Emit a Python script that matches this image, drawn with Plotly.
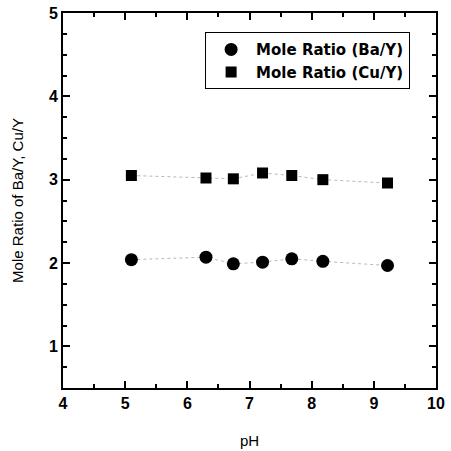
import plotly.graph_objects as go

ph = [5.1, 6.3, 6.74, 7.21, 7.68, 8.18, 9.22]
ba_y = [2.04, 2.07, 1.99, 2.01, 2.05, 2.02, 1.97]
cu_y = [3.05, 3.02, 3.01, 3.08, 3.05, 3.00, 2.96]

fig = go.Figure()
for yy in (ba_y, cu_y):
    fig.add_trace(go.Scatter(x=ph, y=yy, mode="lines", showlegend=False, hoverinfo="skip",
                             line=dict(color="#b8b8b8", width=1, dash="dot")))
fig.add_trace(go.Scatter(x=ph, y=ba_y, mode="markers", name="Mole Ratio (Ba/Y)",
                         marker=dict(symbol="circle", size=13, color="black")))
fig.add_trace(go.Scatter(x=ph, y=cu_y, mode="markers", name="Mole Ratio (Cu/Y)",
                         marker=dict(symbol="square", size=11, color="black")))

axis_common = dict(showline=True, linecolor="black", linewidth=2, mirror="ticks",
                   ticks="inside", ticklen=7, tickwidth=2, tickcolor="black",
                   showgrid=False, zeroline=False, automargin=False,
                   tickfont=dict(family="Liberation Sans", size=16, color="black", weight="bold"))
fig.update_xaxes(range=[4, 10], dtick=1, title=dict(text="pH", font=dict(family="Liberation Sans", size=15, color="black"), standoff=24),
                 minor=dict(ticks="inside", dtick=0.5, ticklen=4, tickwidth=1.5, tickcolor="black"),
                 **axis_common)
fig.update_yaxes(range=[0.5, 5], tick0=1, dtick=1, title=dict(text="Mole Ratio of Ba/Y, Cu/Y", font=dict(family="Liberation Sans", size=15, color="black"), standoff=22),
                 minor=dict(ticks="inside", dtick=0.25, ticklen=4, tickwidth=1.5, tickcolor="black"),
                 **axis_common)
fig.update_layout(width=451, height=451, margin=dict(l=63, r=15, t=13, b=63),
                  plot_bgcolor="white", paper_bgcolor="white", showlegend=True,
                  legend=dict(x=0.381, y=0.949, xanchor="left", yanchor="top",
                              bordercolor="black", borderwidth=1, bgcolor="white",
                              font=dict(family="DejaVu Sans", size=15, color="black", weight="bold"),
                              itemwidth=40, tracegroupgap=0))
fig.write_html("out.html", config={"displayModeBar": False},
               post_script="document.body.style.margin='0';")
